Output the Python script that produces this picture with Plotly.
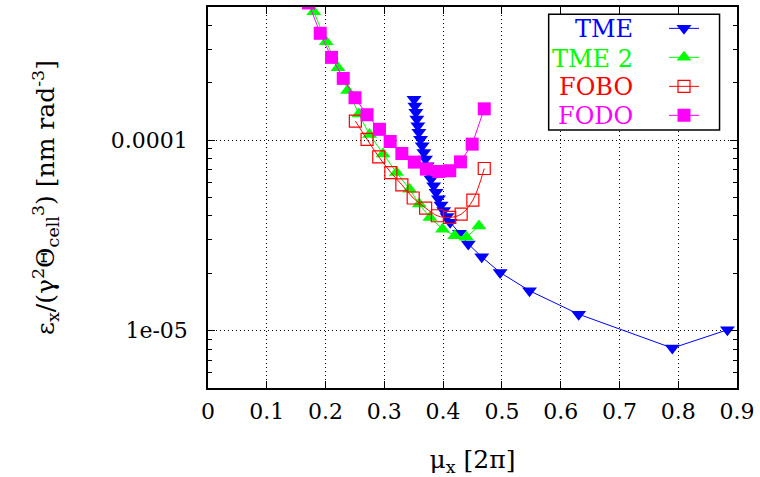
import plotly.graph_objects as go

# Emittance per cell-bending-angle cubed vs. horizontal phase advance
tme_mu = [0.3505, 0.352, 0.3537, 0.3553, 0.357, 0.3588, 0.3616, 0.3644, 0.3672, 0.370,
          0.3728, 0.3756, 0.3795, 0.384, 0.388, 0.392, 0.3964, 0.401, 0.4066, 0.412,
          0.4277, 0.4428, 0.4657, 0.497, 0.547, 0.6306, 0.790, 0.8837]
tme_eps = [1.64e-4, 1.51e-4, 1.40e-4, 1.29e-4, 1.19e-4, 1.10e-4, 1.01e-4, 9.35e-5, 8.62e-5, 7.96e-5,
           7.35e-5, 6.78e-5, 6.25e-5, 5.77e-5, 5.32e-5, 4.92e-5, 4.57e-5, 4.27e-5, 3.98e-5, 3.71e-5,
           3.25e-5, 2.85e-5, 2.44e-5, 2.02e-5, 1.62e-5, 1.22e-5, 8.1e-6, 1.01e-5]

tme2_mu = [0.160, 0.180, 0.2011, 0.2211, 0.2374, 0.2567, 0.2748, 0.2978, 0.3207, 0.343,
           0.3594, 0.3775, 0.399, 0.4198, 0.4397, 0.4609]
tme2_eps = [6.2e-4, 4.72e-4, 3.29e-4, 2.40e-4, 1.82e-4, 1.37e-4, 1.07e-4, 8.45e-5, 6.76e-5, 5.53e-5,
            4.62e-5, 3.93e-5, 3.41e-5, 3.15e-5, 3.09e-5, 3.54e-5]

fobo_mu = [0.2507, 0.2706, 0.2905, 0.3111, 0.3298, 0.3491, 0.3703, 0.3902, 0.4113, 0.4307, 0.4506, 0.470]
fobo_eps = [1.26e-4, 1.01e-4, 8.18e-5, 6.76e-5, 5.83e-5, 4.97e-5, 4.40e-5, 4.01e-5, 3.93e-5, 4.09e-5,
            4.84e-5, 7.10e-5]

fodo_mu = [0.171, 0.1909, 0.2102, 0.2301, 0.2501, 0.2706, 0.2917, 0.3099, 0.3298, 0.351,
           0.3715, 0.3926, 0.4113, 0.4295, 0.4494, 0.470]
fodo_eps = [5.25e-4, 3.64e-4, 2.72e-4, 2.11e-4, 1.67e-4, 1.36e-4, 1.14e-4, 9.84e-5, 8.51e-5, 7.67e-5,
            7.05e-5, 6.85e-5, 6.91e-5, 7.69e-5, 9.53e-5, 1.46e-4]

series_names = ["TME", "TME 2", "FOBO", "FODO"]
series_colors = ["#0000ff", "#00ff00", "#ff0000", "#ff00ff"]

x_ticks = [0, 0.1, 0.2, 0.3, 0.4, 0.5, 0.6, 0.7, 0.8, 0.9]
x_tick_text = ["0", "0.1", "0.2", "0.3", "0.4", "0.5", "0.6", "0.7", "0.8", "0.9"]
y_ticks = [1e-5, 1e-4]
y_tick_text = ["1e-05", "0.0001"]
y_minor = [m * d for d in (1e-6, 1e-5, 1e-4) for m in range(2, 10)]

FONT = "DejaVu Serif"
TICK_FS = 22
TITLE_FS = 25
KEY_FS = 24

fig = go.Figure()
fig.add_trace(go.Scatter(x=tme_mu, y=tme_eps, name=series_names[0], legendgroup="g0",
                         mode="lines+markers", line=dict(color=series_colors[0], width=1),
                         marker=dict(symbol="triangle-down", size=13, color=series_colors[0])))
fig.add_trace(go.Scatter(x=tme2_mu, y=tme2_eps, name=series_names[1], legendgroup="g1",
                         mode="lines+markers", line=dict(color=series_colors[1], width=1),
                         marker=dict(symbol="triangle-up", size=13, color=series_colors[1])))
fig.add_trace(go.Scatter(x=fobo_mu, y=fobo_eps, name=series_names[2], legendgroup="g2",
                         mode="lines+markers",
                         line=dict(color=series_colors[2], width=1, shape="spline"),
                         marker=dict(symbol="square-open", size=12, color=series_colors[2],
                                     line=dict(width=1.2))))
fig.add_trace(go.Scatter(x=fodo_mu, y=fodo_eps, name=series_names[3], legendgroup="g3",
                         mode="lines+markers", line=dict(color=series_colors[3], width=1),
                         marker=dict(symbol="square", size=13, color=series_colors[3])))

axis_common = dict(showline=True, linecolor="black", linewidth=1.5, mirror="allticks",
                   ticks="inside", ticklen=7, tickcolor="black", tickwidth=1,
                   showgrid=True, gridcolor="black", gridwidth=1, griddash="1px,3px",
                   zeroline=False, tickfont=dict(family=FONT, size=TICK_FS, color="black"))

fig.update_xaxes(range=[0, 0.9], tickmode="array", tickvals=x_ticks, ticktext=x_tick_text,
                 ticklabelstandoff=3,
                 title=dict(text="μ<sub>x</sub> [2π]",
                            font=dict(family=FONT, size=TITLE_FS, color="black"), standoff=28),
                 **axis_common)
fig.update_yaxes(type="log", range=[-5.301, -3.301], tickmode="array", tickvals=y_ticks,
                 ticktext=y_tick_text, ticklabelstandoff=14,
                 minor=dict(tickmode="array", tickvals=y_minor, ticks="inside", ticklen=4,
                            tickcolor="black", showgrid=False),
                 title=dict(text="ε<sub>x</sub>/(γ<sup>2</sup>Θ<sub>cell</sub><sup>3</sup>) [nm rad<sup>-3</sup>]",
                            font=dict(family=FONT, size=TITLE_FS, color="black"), standoff=49),
                 **axis_common)

# Key frame and right-aligned coloured labels; the line/marker samples come from the legend
fig.add_shape(type="rect", xref="paper", yref="paper", x0=0.644, x1=0.967, y0=0.677, y1=0.981,
              fillcolor="white", line=dict(color="black", width=1.5), layer="above")
label_y = [0.9433, 0.8647, 0.7889, 0.7131]
for name, color, yy in zip(series_names, series_colors, label_y):
    fig.add_annotation(x=0.808, y=yy, xref="paper", yref="paper", text=name, showarrow=False,
                       xanchor="right", yanchor="middle",
                       font=dict(family=FONT, size=KEY_FS, color=color))

fig.update_layout(
    width=760, height=477,
    margin=dict(l=208, r=20, t=5, b=89),
    paper_bgcolor="white", plot_bgcolor="white",
    showlegend=True,
    legend=dict(x=0.862, y=0.982, xanchor="left", yanchor="top",
                traceorder="grouped", tracegroupgap=10,
                bgcolor="rgba(0,0,0,0)", borderwidth=0, itemwidth=30,
                font=dict(family=FONT, size=8, color="rgba(0,0,0,0)")),
)

fig.write_html("out.html")
